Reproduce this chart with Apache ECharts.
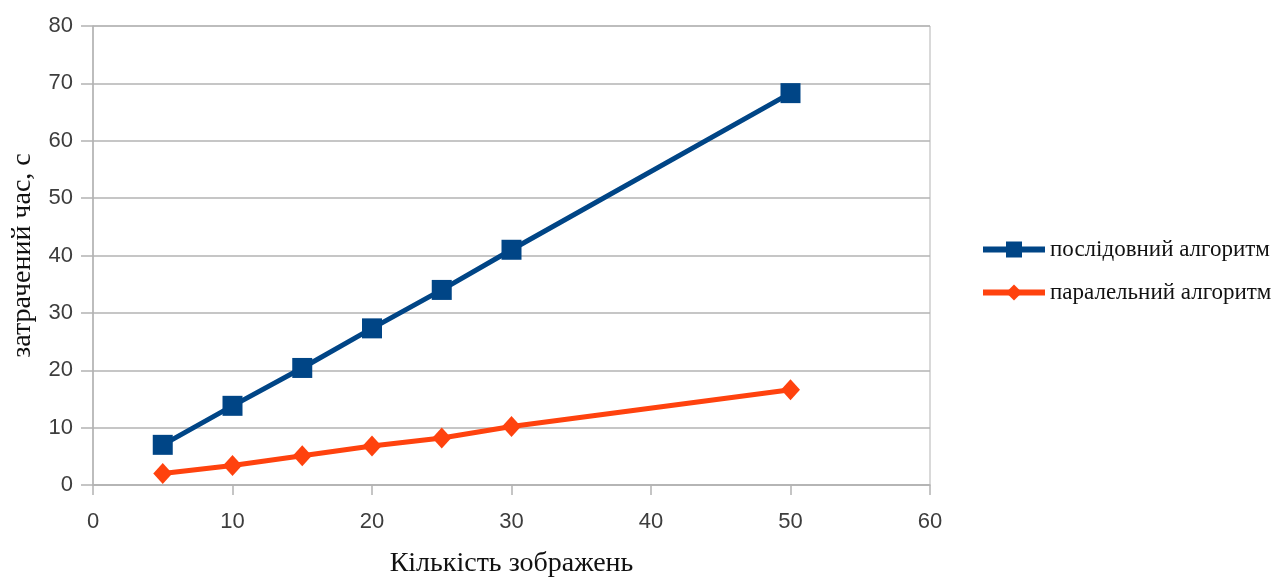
<!DOCTYPE html>
<html>
<head>
<meta charset="utf-8">
<script src="https://cdn.jsdelivr.net/npm/echarts@6/dist/echarts.min.js"></script>
<style>
  html, body { margin: 0; padding: 0; background: #fff; }
  #chart { width: 1286px; height: 579px; }
</style>
</head>
<body>
<div id="chart"></div>
<script>
var images     = [5, 10, 15, 20, 25, 30, 50];
var sequential = [7, 13.8, 20.4, 27.3, 34, 41, 68.3];
var parallel   = [2, 3.4, 5.1, 6.8, 8.2, 10.2, 16.6];
var seriesNames = ['послідовний алгоритм', 'паралельний алгоритм'];

function pairs(ys) {
  var d = [];
  for (var i = 0; i < images.length; i++) d.push([images[i], ys[i]]);
  return d;
}

var chart = echarts.init(document.getElementById('chart'));

var option = {
  animation: false,
  backgroundColor: '#fff',
  grid: {
    left: 93, right: 356, top: 26, bottom: 94,
    containLabel: false,
    outerBoundsMode: 'none',
    show: true, borderColor: '#b3b3b3', borderWidth: 1
  },
  legend: {
    orient: 'vertical',
    left: 975, top: 233,
    itemWidth: 62, itemHeight: 20, itemGap: 20,
    lineStyle: { width: 6 },
    textStyle: { fontFamily: 'Liberation Serif', fontSize: 23, color: '#111' },
    data: seriesNames
  },
  xAxis: {
    type: 'value',
    min: 0, max: 60, interval: 10,
    name: 'Кількість зображень',
    nameLocation: 'middle',
    nameGap: 65,
    nameTextStyle: { fontFamily: 'Liberation Serif', fontSize: 28, color: '#111' },
    axisLine: { lineStyle: { color: '#b3b3b3', width: 1.5 } },
    axisTick: { show: true, length: 10, lineStyle: { color: '#b3b3b3', width: 1.5 } },
    axisLabel: { fontFamily: 'Liberation Sans', fontSize: 22, color: '#3d3d3d', margin: 26 },
    splitLine: { show: false }
  },
  yAxis: {
    type: 'value',
    min: 0, max: 80, interval: 10,
    name: 'затрачений час, с',
    nameLocation: 'middle',
    nameGap: 56,
    nameTextStyle: { fontFamily: 'Liberation Serif', fontSize: 28, color: '#111' },
    axisLine: { show: true, lineStyle: { color: '#b3b3b3', width: 1.5 } },
    axisTick: { show: true, length: 12, lineStyle: { color: '#b3b3b3', width: 1.5 } },
    axisLabel: { fontFamily: 'Liberation Sans', fontSize: 22, color: '#3d3d3d', margin: 20 },
    splitLine: { lineStyle: { color: '#b3b3b3', width: 1.5 } }
  },
  series: [
    {
      name: seriesNames[0],
      type: 'line',
      data: pairs(sequential),
      symbol: 'rect',
      symbolSize: 20,
      lineStyle: { color: '#004586', width: 5 },
      itemStyle: { color: '#004586' }
    },
    {
      name: seriesNames[1],
      type: 'line',
      data: pairs(parallel),
      symbol: 'diamond',
      symbolSize: [19, 21],
      lineStyle: { color: '#ff420e', width: 5 },
      itemStyle: { color: '#ff420e' }
    }
  ]
};

chart.setOption(option);
</script>
</body>
</html>
